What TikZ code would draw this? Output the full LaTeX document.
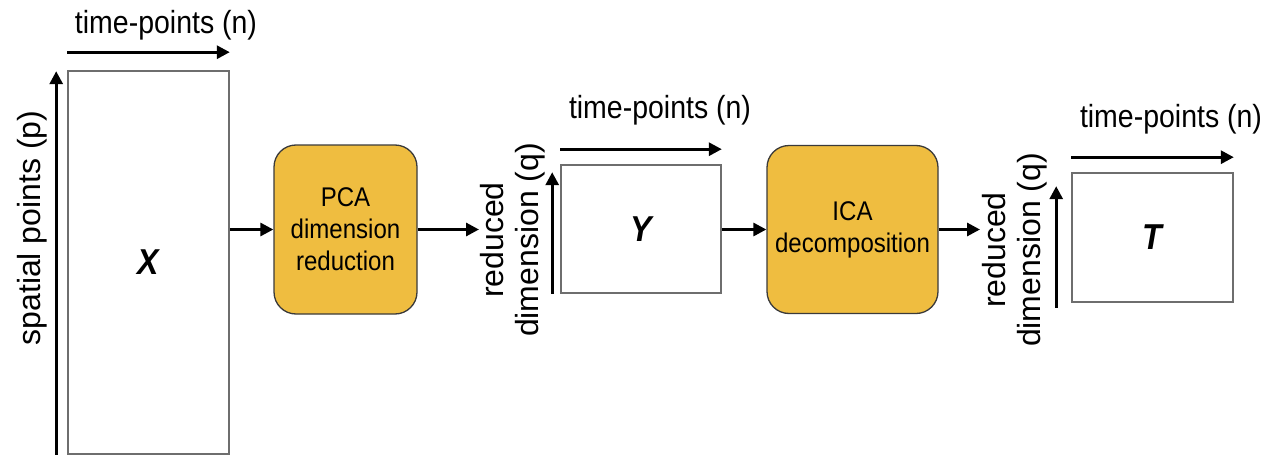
\documentclass[tikz,border=0pt]{standalone}
\usepackage{fontspec}
\setmainfont{Liberation Sans}
\newfontfamily\hfont[FakeStretch=0.89]{Liberation Sans}
\usetikzlibrary{arrows.meta}
\definecolor{stagefill}{HTML}{EFBD40}
\definecolor{stageline}{HTML}{3A3A3A}
\definecolor{matline}{HTML}{6E6E6E}
\tikzset{
  arr/.style={line width=3pt, -{Triangle[length=13pt,width=13pt]}},
  mat/.style={draw=matline, line width=1.6pt, fill=white, inner sep=0pt,
    font=\hfont\fontsize{36}{40}\selectfont\bfseries\itshape},
  stage/.style={draw=stageline, line width=1.3pt, fill=stagefill, rounded corners=22pt,
    align=center, inner sep=0pt, font=\hfont\fontsize{27}{32}\selectfont},
  axlabel/.style={font=\hfont\fontsize{32}{36}\selectfont, inner sep=0pt, anchor=base},
  rotlabel/.style={font=\fontsize{32}{35}\selectfont, inner sep=0pt, rotate=90, align=center},
}
\begin{document}
\begin{tikzpicture}[x=1pt, y=-1pt]
\useasboundingbox (0,0) rectangle (1272,455);

% data matrices
\node[mat, minimum width=161pt, minimum height=383pt] (X) at (148.5,262.5) {X};
\node[mat, minimum width=160pt, minimum height=128pt] (Y) at (641,229) {Y};
\node[mat, minimum width=161pt, minimum height=129pt] (T) at (1152.5,237.5) {T};

% processing stages
\node[stage, minimum width=143pt, minimum height=169pt] (PCA) at (345.5,229.5)
  {PCA\\dimension\\reduction};
\node[stage, minimum width=171pt, minimum height=168pt] (ICA) at (852.5,229.5)
  {ICA\\decomposition};

% axis labels
\node[axlabel] (tX) at (166,33) {time-points (n)};
\node[axlabel] (tY) at (660,118) {time-points (n)};
\node[axlabel] (tT) at (1171,127) {time-points (n)};
\node[rotlabel] (sp) at (32,228) {spatial points (p)};
\node[rotlabel] (rq1) at (513,240) {reduced\\dimension (q)};
\node[rotlabel] (rq2) at (1015,250) {reduced\\dimension (q)};

% axis arrows (shifts are in page units: positive yshift moves up)
\draw[arr] ([yshift=18pt]X.north west) -- ([yshift=18pt]X.north east);
\draw[arr] ([yshift=15pt]Y.north west) -- ([yshift=15pt]Y.north east);
\draw[arr] ([yshift=15pt]T.north west) -- ([yshift=15pt]T.north east);
\draw[arr] ([xshift=-11pt]X.south west) -- ([xshift=-11pt,yshift=-1pt]X.north west);
\draw[arr] ([xshift=-8pt]Y.south west) -- ([xshift=-8pt,yshift=-8pt]Y.north west);
\draw[arr] ([xshift=-15pt,yshift=-5pt]T.south west) -- ([xshift=-15pt,yshift=-14pt]T.north west);

% flow between stages
\coordinate (pcaout) at (479,229.5);
\coordinate (icaout) at (980,229.5);
\draw[arr] (X.east |- PCA.west) -- (PCA.west);
\draw[arr] (PCA.east) -- (pcaout);
\draw[arr] (Y.east |- ICA.west) -- (ICA.west);
\draw[arr] (ICA.east) -- (icaout);
\end{tikzpicture}
\end{document}
